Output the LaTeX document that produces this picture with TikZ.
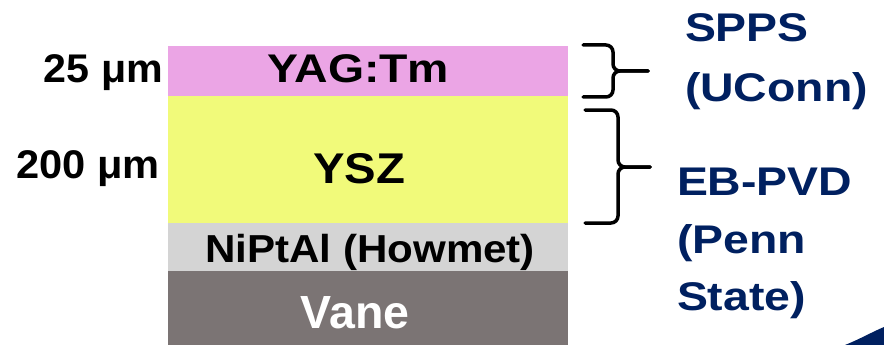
\documentclass[tikz,border=0pt]{standalone}
\usepackage{fontspec}
\setmainfont{Liberation Sans}
\definecolor{yagpink}{RGB}{235,165,229}
\definecolor{yszyellow}{RGB}{241,250,122}
\definecolor{bondgray}{RGB}{212,212,212}
\definecolor{vanegray}{RGB}{123,116,116}
\definecolor{navy}{RGB}{0,32,96}
\newcommand{\wide}[2]{\scalebox{#1}[1]{#2}}
\tikzset{
  layer/.style={inner sep=0pt, outer sep=0pt, minimum width=400pt, anchor=north west, draw=none},
  lbl/.style={inner sep=0pt, outer sep=0pt, anchor=base, font=\bfseries\fontsize{40}{48}\selectfont},
  thick lbl/.style={inner sep=0pt, outer sep=0pt, anchor=base east, font=\bfseries\fontsize{40}{48}\selectfont},
  proc/.style={inner sep=0pt, outer sep=0pt, anchor=north west, align=left, text=navy},
  brc/.style={line width=3.5pt, rounded corners=7pt, line cap=round}
}
\begin{document}
\begin{tikzpicture}[x=1pt,y=-1pt]
\useasboundingbox (0,0) rectangle (884,345);
% layers
\node[layer, fill=yagpink, minimum height=50pt] (yag) at (168,46) {};
\node[layer, fill=yszyellow, minimum height=127pt] (ysz) at (168,96) {};
\node[layer, fill=bondgray, minimum height=48pt] (bond) at (168,223) {};
\node[layer, fill=vanegray, minimum height=74pt] (vane) at (168,271) {};
% layer texts
\node[lbl] (tyag) at (358.5,82) {\wide{1.16}{YAG:Tm}};
\node[lbl, font=\bfseries\fontsize{43}{52}\selectfont] (tysz) at (359,183) {\wide{1.1}{YSZ}};
\node[lbl, font=\bfseries\fontsize{39}{48}\selectfont] (tbond) at (370,262) {\wide{1.08}{NiPtAl (Howmet)}};
\node[lbl, text=white, font=\bfseries\fontsize{46.5}{52}\selectfont] (tvane) at (355,328) {Vane};
% thickness labels
\node[thick lbl] (t25) at (163,82) {\wide{1.03}{25 μm}};
\node[thick lbl] (t200) at (160,178) {\wide{1.04}{200 μm}};
% braces
\draw[brc] (583,45) -- (613,45) -- (613,71) -- (648,71);
\draw[brc] (583,97) -- (613,97) -- (613,71) -- (648,71);
\draw[brc] (585,110) -- (618,110) -- (618,167) -- (650,167);
\draw[brc] (585,223) -- (618,223) -- (618,167) -- (650,167);
% process labels
\node[proc, font=\bfseries\fontsize{40}{60}\selectfont] (spps) at (685,13.3) {\wide{1.16}{SPPS}\\\wide{1.16}{(UConn)}};
\node[proc, font=\bfseries\fontsize{40}{57.5}\selectfont] (ebpvd) at (677,168) {\wide{1.16}{EB-PVD}\\\wide{1.16}{(Penn}\\\wide{1.16}{State)}};
% corner wedge
\fill[navy] (845,345) .. controls (860,339) and (872,332) .. (884,327) -- (884,345) -- cycle;
\end{tikzpicture}
\end{document}
